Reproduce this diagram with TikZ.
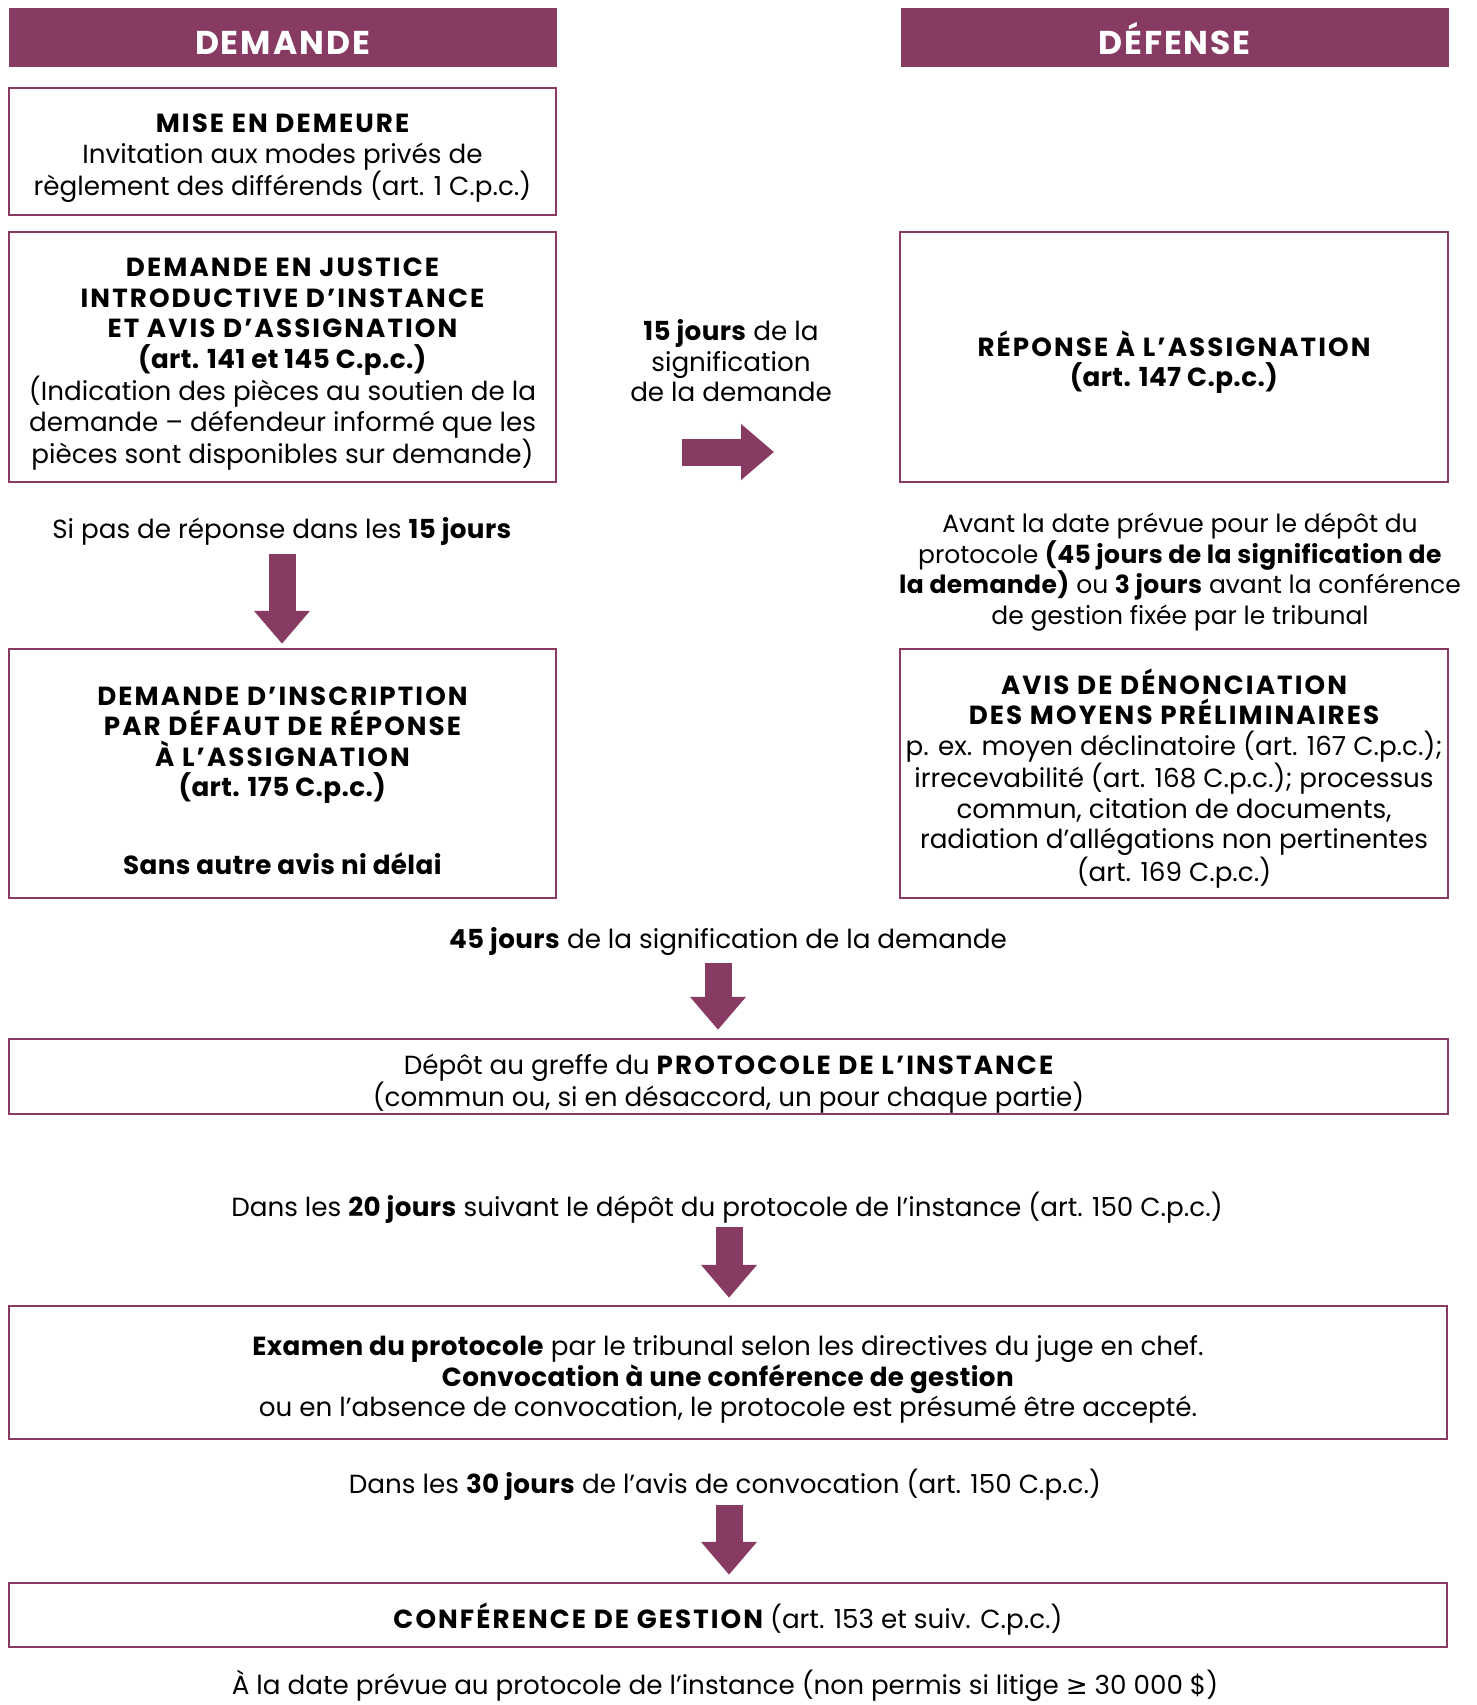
\documentclass[tikz,border=0pt]{standalone}
\usepackage{fontspec}
\setmainfont{Poppins}[BoldFeatures={LetterSpace=1.5}]
\newfontfamily\majfont{Poppins}[LetterSpace=8]
\newfontfamily\titrefont{Poppins}[LetterSpace=6]
\newfontfamily\symfont{DejaVu Sans}
\newcommand\maj[1]{{\majfont\bfseries #1}}
\usetikzlibrary{positioning,arrows.meta}
\definecolor{prune}{RGB}{135,58,98}
\tikzset{
cadre/.style={draw=prune, line width=2.5pt, minimum width=547pt, inner sep=0pt},
titre/.style={fill=prune, text=white, minimum width=548pt, minimum height=59pt,
    inner sep=0pt, text height=34pt, text depth=0pt,
    font=\fontsize{33}{40}\selectfont\titrefont\bfseries},
note/.style={align=center, inner sep=0pt, font=\fontsize{26.2}{30.5}\selectfont},
fleche/.style={draw=prune, line width=27pt, -{Triangle[width=54pt,length=33pt]}}
}

\begin{document}
\begin{tikzpicture}[x=1pt,y=-1pt]
\useasboundingbox (0,0) rectangle (1476,1705);

% en-tetes
\node[titre] (hdem) at (282.5,37.5) {DEMANDE};
\node[titre] (hdef) at (1174.5,37.5) {DÉFENSE};

% colonne demande
\node[cadre,minimum height=127pt] (mise) at (282.5,151.5) {};
\node[note] (misetxt) at ([yshift=-7pt]mise.center)
  {\maj{MISE EN DEMEURE}\\Invitation aux modes privés de\\règlement des différends (art. 1 C.p.c.)};
\node[cadre,minimum height=250pt] (just) at (282.5,357) {};
\node[note] (justtxt) at ([yshift=-7pt]just.center)
  {\maj{DEMANDE EN JUSTICE}\\\maj{INTRODUCTIVE D’INSTANCE}\\\maj{ET AVIS D’ASSIGNATION}\\\textbf{(art. 141 et 145 C.p.c.)}\\(Indication des pièces au soutien de la\\demande – défendeur informé que les\\pièces sont disponibles sur demande)};
\node[note] (sipas) at (282,531) {Si pas de réponse dans les \textbf{15 jours}};
\node[cadre,minimum height=249pt] (inscr) at (282.5,773.5) {};
\node[note] (inscrtxt) at ([yshift=-7pt]inscr.center)
  {\maj{DEMANDE D’INSCRIPTION}\\\maj{PAR DÉFAUT DE RÉPONSE}\\\maj{À L’ASSIGNATION}\\\textbf{(art. 175 C.p.c.)}\\[47pt]\textbf{Sans autre avis ni délai}};

% colonne defense
\node[cadre,minimum width=548pt,minimum height=250pt] (repo) at (1174,357) {};
\node[note] (repotxt) at ([yshift=-5pt]repo.center)
  {\maj{RÉPONSE À L’ASSIGNATION}\\\textbf{(art. 147 C.p.c.)}};
\node[note,font=\fontsize{25}{30.5}\selectfont] (avant) at (1180,572)
  {Avant la date prévue pour le dépôt du\\protocole \textbf{(45 jours de la signification de}\\\textbf{la demande)} ou \textbf{3 jours} avant la conférence\\de gestion fixée par le tribunal};
\node[cadre,minimum width=548pt,minimum height=249pt] (avis) at (1174,773.5) {};
\node[note] (avistxt) at ([yshift=-5pt]avis.center)
  {\maj{AVIS DE DÉNONCIATION}\\\maj{DES MOYENS PRÉLIMINAIRES}\\p. ex. moyen déclinatoire (art. 167 C.p.c.);\\irrecevabilité (art. 168 C.p.c.); processus\\commun, citation de documents,\\radiation d’allégations non pertinentes\\(art. 169 C.p.c.)};

\node[note] (quinze) at (731,361) {\textbf{15 jours} de la\\signification\\de la demande};

% bas
\node[note] (q45) at (728,942) {\textbf{45 jours} de la signification de la demande};
\node[cadre,minimum width=1439pt,minimum height=75pt] (proto) at (728.5,1076.5) {};
\node[note] (prototxt) at ([yshift=-7pt]proto.center)
  {Dépôt au greffe du \maj{PROTOCOLE DE L’INSTANCE}\\(commun ou, si en désaccord, un pour chaque partie)};
\node[note] (vingt) at (727,1208)
  {Dans les \textbf{20 jours} suivant le dépôt du protocole de l’instance (art. 150 C.p.c.)};
\node[cadre,minimum width=1438pt,minimum height=133pt] (exam) at (728,1372.5) {};
\node[note] (examtxt) at ([yshift=-7pt]exam.center)
  {\textbf{Examen du protocole} par le tribunal selon les directives du juge en chef.\\\textbf{Convocation à une conférence de gestion}\\ou en l’absence de convocation, le protocole est présumé être accepté.};
\node[note] (trente) at (725,1485)
  {Dans les \textbf{30 jours} de l’avis de convocation (art. 150 C.p.c.)};
\node[cadre,minimum width=1438pt,minimum height=64pt] (conf) at (728,1615) {};
\node[note] (conftxt) at ([yshift=-4pt]conf.center)
  {\maj{CONFÉRENCE DE GESTION} (art. 153 et suiv. C.p.c.)};
\node[note] (bas) at (725,1686)
  {À la date prévue au protocole de l’instance (non permis si litige {\symfont ≥} 30 000 \$)};

% fleches
\coordinate (f1) at (282,554);
\coordinate (f2a) at (682,452);
\coordinate (f2b) at (774,452);
\coordinate (f3) at (718,963);
\coordinate (f4) at (729,1227);
\coordinate (f5) at (729,1505);
\draw[fleche,shorten >=4pt] (f1) -- (f1 |- inscr.north);
\draw[fleche] (f2a) -- (f2b);
\draw[fleche,shorten >=8pt] (f3) -- (f3 |- proto.north);
\draw[fleche,shorten >=7pt] (f4) -- (f4 |- exam.north);
\draw[fleche,shorten >=7pt] (f5) -- (f5 |- conf.north);
\end{tikzpicture}
\end{document}
